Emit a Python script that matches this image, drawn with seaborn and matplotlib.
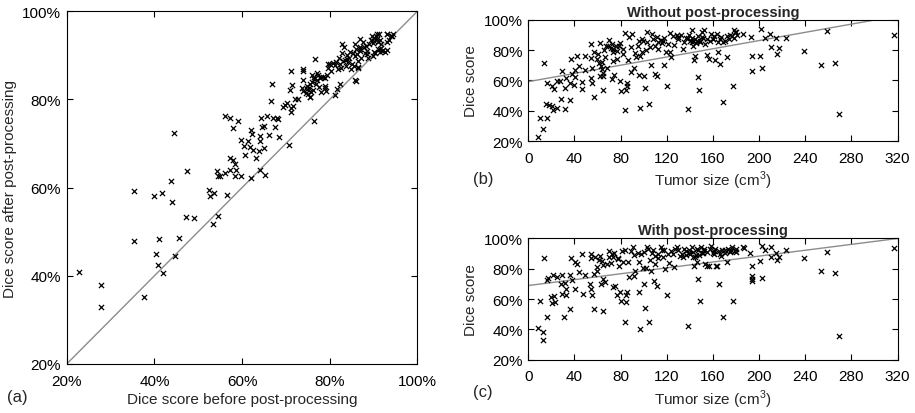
import numpy as np
import pandas as pd
import seaborn as sns
import matplotlib.pyplot as plt

# ---- panel (a): dice before vs after post-processing (%)
before_a = [22.7, 27.8, 27.8, 37.6, 35.4, 35.4, 40.0, 41.8, 43.9, 44.1, 44.5, 47.4, 47.2, 49.1,
            40.3, 41.0, 40.9, 42.0, 45.6, 44.6, 52.5, 52.7, 53.6, 53.3, 54.6, 56.5, 54.2, 54.4,
            55.0, 56.2, 57.3, 57.3, 57.9, 58.4, 58.6, 58.5, 59.8, 56.0, 57.3, 59.0, 58.0, 59.8,
            60.5, 60.7, 61.4, 61.8, 62.0, 62.2, 62.4, 62.1, 63.2, 64.0, 64.0, 63.8, 64.4, 64.6,
            65.1, 64.9, 64.0, 65.2, 65.8, 66.2, 66.5, 66.8, 67.0, 67.6, 68.0, 68.3, 68.5, 69.4,
            69.9, 70.2, 70.7, 71.0, 71.1, 71.4, 71.1, 71.1, 71.7, 72.1, 72.7, 73.8, 73.9, 73.6,
            74.8, 75.6, 76.5, 76.7, 81.2, 81.6, 85.9, 86.5, 88.4, 90.0, 91.5, 93.0,
            74.0, 74.5, 74.8, 75.0, 75.3, 75.6, 75.8, 76.0, 76.2, 76.5, 76.8, 77.0, 77.3, 77.5,
            77.8, 78.0, 78.5, 79.0, 79.3, 79.5, 80.0, 80.3, 80.8, 81.2, 81.5, 81.8, 82.0, 82.3,
            82.5, 82.7, 83.0, 83.2, 83.5, 83.8, 84.0, 84.2, 84.5, 84.8, 85.0, 85.2, 85.5, 85.8,
            86.0, 86.2, 86.5, 86.8, 87.0, 87.2, 87.5, 87.8, 88.0, 88.3, 88.5, 88.8, 89.0, 89.5,
            89.8, 90.0, 90.2, 90.5, 90.7, 91.0, 91.2, 91.5, 91.7, 90.3, 91.0, 92.0, 92.5, 93.0,
            93.5, 94.0, 93.0, 94.5, 78.9, 78.1, 82.4, 79.5, 77.0, 76.0, 74.0, 76.3, 75.5, 78.9,
            79.1, 85.8, 82.7, 85.8, 86.9, 89.6, 90.7, 93.0, 94.1, 91.5, 92.2, 89.9, 86.5, 83.9,
            84.6, 86.9]
after_a = [40.8, 37.9, 32.9, 35.3, 59.2, 48.0, 58.0, 58.7, 61.5, 56.7, 72.5, 63.8, 53.4, 53.0,
           44.9, 48.4, 42.4, 40.6, 48.6, 44.6, 59.5, 58.2, 58.8, 51.7, 53.6, 58.4, 63.8, 62.7,
           62.7, 63.4, 64.0, 66.7, 66.2, 65.4, 64.1, 62.7, 62.7, 76.3, 75.9, 75.0, 73.5, 70.9,
           69.5, 67.5, 70.6, 69.3, 73.1, 72.2, 68.6, 62.1, 66.7, 71.8, 70.6, 68.4, 75.9, 73.8,
           73.9, 68.9, 63.9, 62.9, 76.2, 71.9, 79.6, 83.4, 75.8, 73.7, 75.7, 75.5, 71.4, 78.2,
           78.7, 79.3, 69.7, 82.2, 86.4, 83.2, 78.1, 77.2, 78.6, 80.2, 80.1, 86.8, 84.5, 82.6,
           82.4, 80.6, 75.0, 89.2, 80.9, 82.3, 84.1, 87.1, 90.3, 90.7, 91.5, 93.0,
           82.0, 81.5, 83.0, 81.2, 82.5, 83.5, 81.8, 84.0, 82.2, 85.0, 83.5, 84.5, 85.5, 82.8,
           84.8, 85.2, 85.0, 84.8, 85.5, 87.2, 88.0, 86.5, 88.2, 87.8, 88.5, 86.8, 89.5, 88.0,
           87.2, 90.5, 88.8, 92.0, 89.0, 87.5, 90.0, 88.5, 89.5, 86.8, 88.0, 90.5, 87.5, 89.8,
           91.5, 90.2, 88.8, 92.0, 91.0, 89.5, 93.0, 91.8, 90.5, 92.2, 91.0, 89.5, 92.5, 93.5,
           92.8, 94.0, 93.2, 94.5, 93.8, 93.0, 94.8, 93.5, 92.5, 90.5, 91.5, 91.0, 90.8, 91.2,
           93.5, 94.5, 94.8, 94.8, 82.6, 81.7, 83.5, 88.0, 86.0, 85.5, 86.5, 84.6, 80.5, 83.1,
           82.0, 84.3, 92.6, 92.6, 93.7, 94.5, 94.8, 94.8, 94.5, 90.7, 91.1, 89.9, 87.3, 89.2,
           90.7, 91.4]

# ---- panel (b): tumour size vs dice without post-processing
size_b = [8.7, 10.4, 12.7, 16.5, 13.3, 16.5, 15.6, 18.2, 20.2, 21.1, 24.5, 22.5, 20.5, 25.1,
          27.4, 28.3, 29.2, 31.5, 32.1, 32.6, 36.4, 37.0, 36.1, 38.1, 40.7, 39.3, 42.5, 43.6,
          40.7, 49.1, 49.4, 46.5, 46.5, 54.0, 54.6, 55.4, 54.3, 55.2, 56.9, 57.2, 62.1, 61.5,
          62.4, 63.5, 64.4, 65.0, 65.6, 67.3, 66.7, 67.9, 69.9, 71.9, 73.1, 72.8, 74.2, 76.0,
          76.5, 77.1, 78.3, 79.7, 79.7, 80.0, 82.0, 83.5, 83.5, 84.3, 85.2, 85.8, 86.6, 87.5,
          88.7, 88.7, 89.8, 91.3, 92.4, 93.3, 95.0, 95.9, 96.2, 97.0, 96.7, 98.5, 99.6, 99.9,
          101.4, 102.0, 102.8, 104.3, 106.0, 107.1, 109.5, 109.7, 111.8, 114.7, 115.5, 117.8,
          119.0, 120.1, 122.4, 123.0, 123.9, 125.6, 126.2, 128.5, 133.7, 138.3, 138.6, 141.5,
          143.0, 143.5, 144.7, 146.7, 148.2, 150.8, 152.2, 154.5, 156.5, 158.0, 159.7, 162.0,
          163.7, 164.6, 165.8, 167.2, 168.9, 171.8, 173.6, 177.0, 178.2, 179.3, 181.1, 186.3,
          192.9, 193.8, 193.8, 201.6, 200.7, 202.5, 205.1, 209.4, 210.3, 214.9, 215.2, 216.9,
          223.3, 239.1, 253.6, 258.8, 266.0, 268.9, 316.8,
          59.2, 60.6, 62.7, 63.5, 64.4, 69.3, 72.2, 73.1, 73.6, 82.3, 98.2, 102.5, 105.4, 111.2,
          112.6, 117.0, 121.3, 130.0, 140.0, 141.5, 143.0, 144.4, 145.3, 146.4, 148.7, 150.2,
          153.1, 157.4, 160.3, 164.6, 168.9, 176.1,
          130.0, 132.0, 135.0, 137.0, 139.0, 142.0, 147.0, 149.0, 151.0, 155.0, 161.0, 166.0,
          170.0, 172.0, 175.0, 178.0, 180.0, 118.0, 112.0, 108.0]
dice_b = [22.8, 35.3, 27.9, 35.3, 71.3, 58.1, 44.6, 43.9, 43.5, 40.6, 41.7, 54.3, 56.4, 59.7,
          59.7, 47.8, 66.2, 41.3, 54.9, 61.9, 47.4, 73.9, 58.6, 64.1, 66.7, 57.3, 75.9, 69.8,
          62.3, 76.3, 66.9, 58.8, 54.6, 83.8, 75.0, 68.0, 61.4, 58.4, 79.0, 49.4, 84.7, 71.3,
          63.2, 72.0, 62.7, 53.5, 79.8, 82.5, 75.7, 68.0, 86.4, 81.4, 78.5, 60.8, 63.6, 82.7,
          79.2, 73.9, 82.9, 84.7, 59.5, 52.9, 77.2, 91.2, 40.4, 54.0, 58.4, 56.2, 73.7, 88.8,
          81.8, 65.4, 90.4, 68.0, 77.9, 75.5, 82.9, 86.0, 63.8, 75.9, 42.1, 78.5, 86.0, 62.7,
          54.9, 80.3, 91.7, 44.3, 70.0, 90.4, 82.9, 64.5, 62.7, 86.9, 84.4, 70.0,
          78.5, 56.2, 91.2, 78.5, 75.2, 89.5, 83.6, 89.9, 80.7, 88.2, 41.3, 93.2,
          82.9, 73.5, 76.3, 62.1, 54.0, 91.7, 93.2, 76.8, 74.1, 90.4, 87.3, 73.5,
          90.6, 79.0, 70.6, 88.8, 45.6, 75.5, 87.3, 56.6, 93.2, 91.7, 89.9, 90.6,
          88.4, 76.3, 66.5, 93.9, 76.3, 68.0, 87.7, 90.8, 82.3, 87.7, 77.6, 81.6,
          88.0, 79.2, 70.0, 92.3, 71.3, 38.0, 89.9,
          74.1, 77.4, 69.8, 67.6, 65.0, 82.9, 84.0, 73.1, 80.7, 80.7, 87.3, 85.1, 81.8, 88.4,
          80.7, 86.2, 84.0, 88.4, 86.2, 85.1, 86.2, 87.3, 84.7, 86.0, 85.5, 88.4,
          84.0, 86.2, 87.3, 85.1, 85.5, 89.5,
          87.0, 90.0, 85.0, 88.0, 90.0, 88.0, 89.0, 86.0, 88.0, 87.0, 89.0, 87.0,
          86.0, 89.0, 90.0, 88.0, 92.0, 88.0, 85.0, 87.0]

# ---- panel (c): tumour size vs dice with post-processing
size_c = [8.1, 12.4, 12.7, 10.4, 13.3, 16.5, 16.5, 16.8, 19.3, 20.5, 21.1, 22.0, 23.1, 25.1,
          28.3, 28.9, 29.2, 31.2, 32.1, 32.6, 32.6, 36.4, 37.0, 36.1, 37.8, 40.1, 40.7, 42.5,
          43.6, 47.1, 46.5, 49.4, 54.6, 54.0, 53.7, 54.3, 55.2, 56.9, 56.9, 59.2, 59.8, 62.1,
          62.7, 63.5, 64.4, 65.0, 66.7, 67.9, 69.9, 71.3, 72.2, 73.1, 73.6, 75.4, 76.5, 77.4,
          78.3, 79.7, 80.0, 81.2, 82.0, 83.5, 84.3, 84.9, 85.2, 86.4, 87.5, 88.7, 90.4, 91.3,
          92.7, 95.0, 95.9, 96.2, 96.7, 97.3, 99.6, 100.2, 101.4, 102.0, 103.1, 104.3, 105.4,
          106.0, 107.1, 108.9, 109.7, 111.8, 112.6, 114.7, 117.0, 118.1, 120.1, 122.2, 123.3,
          125.0, 126.2, 128.5, 133.7, 136.6, 138.6, 140.0, 141.5, 142.4, 143.5, 144.7, 145.8,
          147.0, 148.4, 149.6, 150.8, 152.2, 153.4, 155.1, 156.5, 158.3, 159.7, 160.9, 162.3,
          163.7, 164.9, 165.5, 166.6, 168.4, 170.4, 171.8, 174.7, 176.1, 177.0, 178.8, 179.9,
          185.7, 186.6, 192.1, 193.5, 193.8, 193.8, 193.8, 200.7, 202.2, 202.8, 205.1, 210.0,
          210.3, 214.9, 215.2, 216.9, 223.3, 239.1, 253.6, 258.8, 265.7, 268.9, 316.8,
          58.0, 61.0, 65.0, 70.0, 74.0, 78.0, 84.0, 92.0, 100.0, 110.0, 116.0, 121.0, 127.0,
          131.0, 139.0, 145.0, 147.0, 151.0, 157.0, 161.0, 168.0, 175.0,
          130.0, 133.0, 135.0, 137.0, 139.0, 143.0, 146.0, 148.0, 152.0, 155.0, 162.0, 166.0,
          170.0, 173.0, 176.0, 180.0, 118.0, 112.0, 108.0, 104.0]
dice_c = [40.7, 38.0, 33.0, 58.9, 86.8, 47.9, 72.5, 73.6, 61.1, 57.4, 76.0, 62.2, 58.2, 74.7,
          69.9, 63.3, 76.0, 48.4, 70.6, 66.6, 62.9, 53.4, 86.8, 76.0, 72.5, 66.6, 84.2, 83.1,
          78.0, 63.3, 89.7, 75.8, 89.7, 86.8, 69.9, 66.6, 62.9, 53.4, 76.5, 80.9, 78.7, 88.6,
          69.9, 84.9, 73.2, 51.9, 71.0, 83.1, 91.9, 83.5, 89.7, 67.7, 87.5, 68.8, 62.9, 86.4,
          82.0, 64.6, 58.9, 91.9, 84.2, 44.8, 62.9, 58.2, 64.8, 84.2, 74.3, 91.9, 94.1, 75.4,
          78.7, 90.1, 64.4, 84.2, 40.2, 89.7, 80.4, 69.9, 54.1, 80.4, 94.1, 44.6, 85.7,
          78.7, 90.1, 72.1, 83.1, 68.8, 86.8, 94.1, 87.5, 79.8, 62.9, 83.5, 91.9,
          89.7, 81.3, 94.5, 87.9, 91.9, 42.4, 89.7, 94.1, 87.5, 82.0, 87.9, 84.2,
          73.2, 58.9, 94.1, 90.1, 91.9, 83.1, 82.0, 82.0, 95.2, 90.1, 91.9, 82.0,
          82.0, 91.9, 69.9, 88.6, 47.9, 90.1, 84.2, 91.9, 94.1, 58.9, 91.9, 93.0,
          94.5, 93.6, 90.1, 82.0, 75.4, 73.2, 71.7, 84.8, 95.2, 73.9, 92.3, 94.1,
          87.5, 90.1, 85.7, 87.5, 92.3, 87.0, 78.7, 91.2, 77.1, 35.6, 93.6,
          88.0, 85.5, 82.5, 88.0, 90.5, 87.0, 92.0, 89.0, 91.0, 88.5, 92.5, 90.0, 93.0,
          88.5, 90.5, 89.0, 92.0, 90.5, 93.0, 89.5, 92.5, 91.0,
          92.0, 90.0, 93.0, 89.0, 92.0, 91.0, 93.0, 89.0, 93.0, 91.0, 93.0, 90.0,
          92.0, 93.0, 92.0, 91.0, 92.0, 90.0, 92.0, 93.0]

pct_ticks = [20, 40, 60, 80, 100]
size_ticks = [0, 40, 80, 120, 160, 200, 240, 280, 320]

sns.set_theme(style="white")
plt.rcParams['font.family'] = ['Liberation Sans', 'DejaVu Sans']
plt.rcParams['mathtext.fontset'] = 'custom'
plt.rcParams['mathtext.rm'] = 'Liberation Sans'
plt.rcParams['axes.edgecolor'] = 'black'
plt.rcParams['axes.linewidth'] = 0.8

fig = plt.figure(figsize=(9.15, 4.14), dpi=100)
ax_a = fig.add_axes([0.0729, 0.1184, 0.3833, 0.852])
ax_b = fig.add_axes([0.5774, 0.6563, 0.4036, 0.2937])
ax_c = fig.add_axes([0.5774, 0.1287, 0.4036, 0.2932])

mk = dict(marker="x", color="black", s=14, linewidth=0.9)
pct_labels = [f"{t}%" for t in pct_ticks]


def style_axes(ax):
    ax.tick_params(direction="in", length=4, width=0.8, top=True, right=True,
                   bottom=True, left=True, labelsize=11, colors="black")
    ax.tick_params(axis="x", pad=7)
    ax.tick_params(axis="y", pad=4)
    for sp in ax.spines.values():
        sp.set_visible(True)
        sp.set_color("black")


# (a)
df_a = pd.DataFrame({"before": before_a, "after": after_a})
ax_a.set_xlim(20, 100)
ax_a.set_ylim(20, 100)
ax_a.axline((20, 20), slope=1, color="#8c8c8c", linewidth=1.0, zorder=1)
sns.scatterplot(data=df_a, x="before", y="after", ax=ax_a, zorder=2, **mk)
ax_a.set_xticks(pct_ticks)
ax_a.set_xticklabels(pct_labels)
ax_a.set_yticks(pct_ticks)
ax_a.set_yticklabels(pct_labels)
ax_a.set_xlabel("Dice score before post-processing", fontsize=11, labelpad=3)
ax_a.set_ylabel("Dice score after post-processing", fontsize=11, labelpad=4)
style_axes(ax_a)

# (b) and (c)
panels = [(ax_b, size_b, dice_b, "Without post-processing"),
          (ax_c, size_c, dice_c, "With post-processing")]
for ax, sz, dc, title in panels:
    df = pd.DataFrame({"size": sz, "dice": dc})
    ax.set_xlim(0, 320)
    ax.set_ylim(20, 100)
    sns.regplot(data=df, x="size", y="dice", ax=ax, scatter=False, ci=None,
                truncate=False, line_kws=dict(color="#8c8c8c", linewidth=1.0, zorder=1))
    sns.scatterplot(data=df, x="size", y="dice", ax=ax, zorder=2, **mk)
    ax.set_xlim(0, 320)
    ax.set_ylim(20, 100)
    ax.set_xticks(size_ticks)
    ax.set_yticks(pct_ticks)
    ax.set_yticklabels(pct_labels)
    ax.set_xlabel("Tumor size (cm$^3$)", fontsize=11, labelpad=3)
    ax.set_ylabel("Dice score", fontsize=11, labelpad=4)
    ax.set_title(title, fontsize=10.5, fontweight="bold", pad=3)
    style_axes(ax)

fig.text(0.008, 0.03, "(a)", fontsize=12)
fig.text(0.517, 0.555, "(b)", fontsize=12)
fig.text(0.517, 0.042, "(c)", fontsize=12)

fig.savefig("out.png", dpi=100)
